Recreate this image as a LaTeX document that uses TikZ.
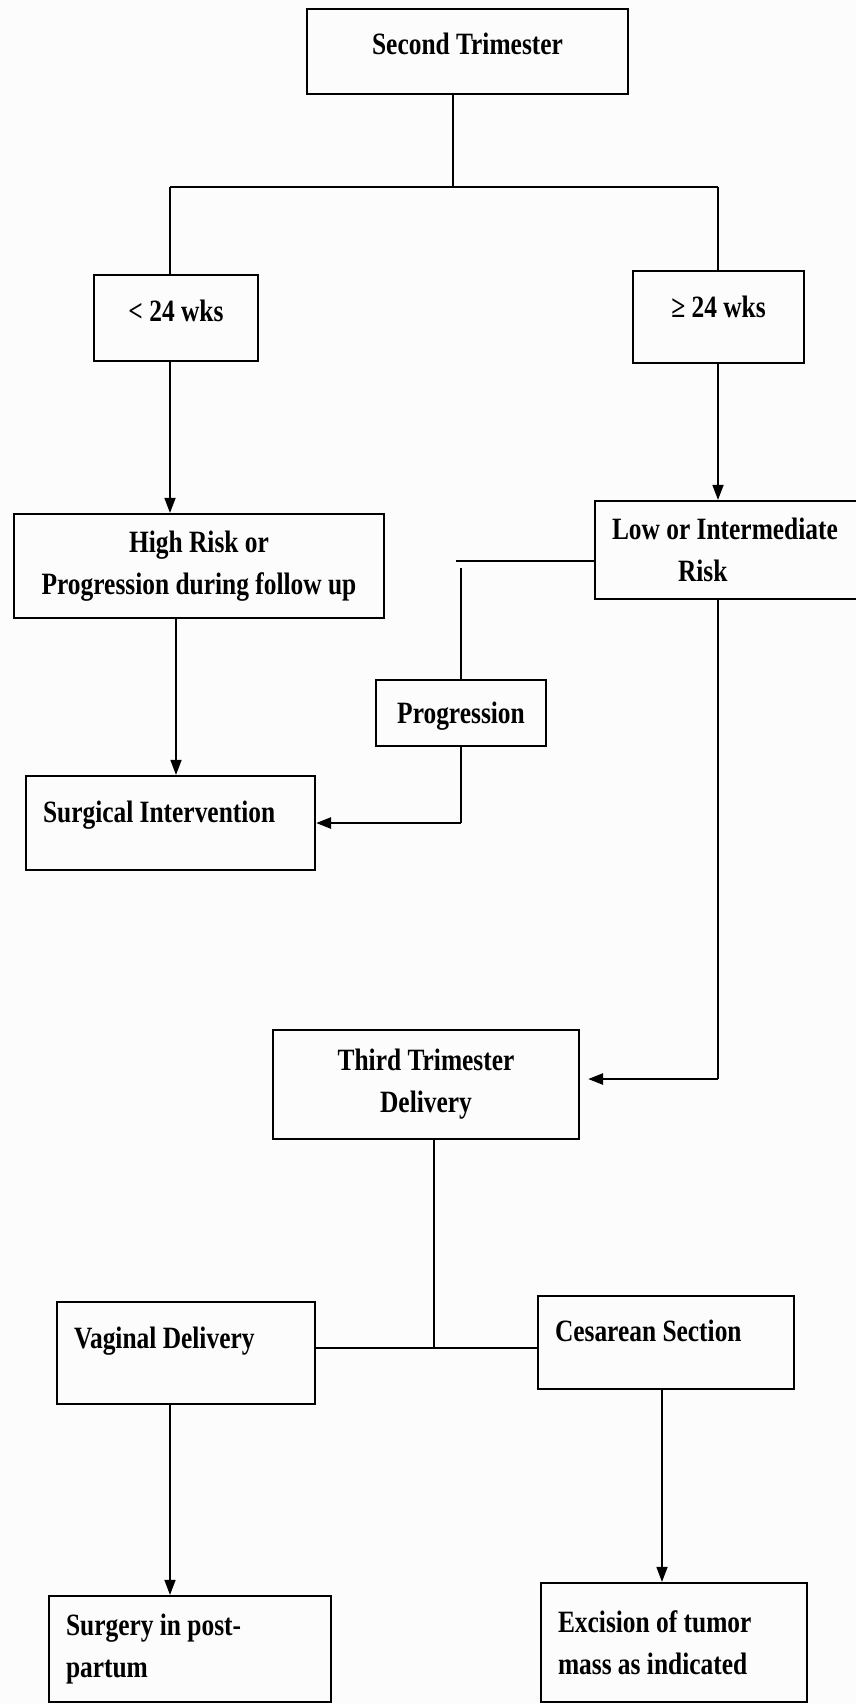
\documentclass[tikz,border=0pt]{standalone}
\usepackage{fontspec}
\setmainfont{Liberation Serif}[FakeStretch=0.82]
\usetikzlibrary{arrows.meta}

\begin{document}
\begin{tikzpicture}[x=0.5pt, y=-0.5pt,
		box/.style={draw, rectangle, line width=1.1pt, inner xsep=8.5pt, inner ysep=0pt,
			font=\bfseries\fontsize{15.5}{21}\selectfont},
		oneline/.style={text height=10.85pt, text depth=#1},
		conn/.style={line width=0.8pt},
		hconn/.style={line width=1.3pt},
		arr/.style={conn, -{Triangle[length=7.5pt, width=5.5pt]}},
		harr/.style={hconn, -{Triangle[length=7.5pt, width=5.5pt]}}]
		%%%%% START %%%%%
		
		\useasboundingbox (0, 0) rectangle (856, 1704);
		\fill[black!1] (0, 0) rectangle (856, 1704);
		\clip (0, 0) rectangle (856, 1704);
		
		\node[box, oneline=8.35pt, minimum width=160.5pt, minimum height=42.5pt] (second) at (467.5, 51.5) {Second Trimester};
		\node[box, oneline=7.85pt, minimum width=82pt, minimum height=43pt] (lt24) at (176, 318) {< 24 wks};
		\node[box, oneline=10.85pt, minimum width=85.5pt, minimum height=46pt] (ge24) at (718.5, 317) {≥ 24 wks};
		
		\node[box, align=center, minimum width=185pt, minimum height=52pt] (high) at (199, 566) {High Risk or\\Progression during follow up};
		\node[box, align=flush left, text width=118.5pt, minimum height=49pt] (low) at (730.5, 550) {Low or Intermediate\\\hspace*{33pt}Risk};
		\node[box, oneline=0pt, minimum width=85pt, minimum height=33pt] (prog) at (461, 713) {Progression};
		\node[box, oneline=11.85pt, align=flush left, text width=127.5pt, minimum height=47pt] (surg) at (170.5, 823) {Surgical Intervention};
		
		\node[box, align=center, minimum width=153pt, minimum height=54.5pt] (third) at (426, 1084.5) {Third Trimester\\Delivery};
		\node[box, oneline=15.85pt, align=flush left, text width=112pt, minimum height=51pt] (vag) at (186, 1353) {Vaginal Delivery};
		\node[box, oneline=12.35pt, align=flush left, text width=111pt, minimum height=46.5pt] (ces) at (666, 1342.5) {Cesarean Section};
		\node[box, align=flush left, text width=124pt, minimum height=53pt] (postp) at (190, 1649) {Surgery in post-\\partum};
		\node[box, align=flush left, text width=116pt, minimum height=59.5pt] (exc) at (674, 1642.5) {Excision of tumor\\mass as indicated};
		
		% bends and junctions
		\coordinate (splitM) at (453, 187);
		\coordinate (splitL) at (170, 187);
		\coordinate (splitR) at (718, 187);
		\coordinate (tapL) at (456, 561);
		\coordinate (tapD) at (461, 568);
		\coordinate (bendR) at (718, 1079);
		\coordinate (join) at (434, 1348);
		\coordinate (dropR) at (662, 1450);
		
		\draw[conn] (second.south -| splitM) -- (splitM);
		\draw[hconn] (splitL) -- (splitR);
		\draw[conn] (splitL) -- (lt24.north -| splitL);
		\draw[conn] (splitR) -- (ge24.north -| splitR);
		
		\draw[arr] (lt24.south -| splitL) -- (high.north -| splitL);
		\draw[arr] (ge24.south -| splitR) -- (low.north -| splitR);
		\draw[arr] (high.south -| lt24.south) -- (surg.north -| lt24.south);
		
		\draw[hconn] (low.west |- tapL) -- (tapL);
		\draw[conn] (tapD) -- (prog.north -| tapD);
		\draw[conn] (prog.south) -- (prog.south |- surg.east);
		\draw[harr] (prog.south |- surg.east) -- (surg.east);
		
		\draw[conn] (low.south -| bendR) -- (bendR);
		\draw[harr, shorten >=4pt] (bendR) -- (third.east |- bendR);
		
		\draw[conn] (third.south -| join) -- (join);
		\draw[hconn] (vag.east |- join) -- (ces.west |- join);
		\draw[arr] (vag.south -| splitL) -- (postp.north -| splitL);
		\draw[arr] (ces.south -| dropR) -- (exc.north -| dropR);
		
		%%%%% END %%%%%
	\end{tikzpicture}
\end{document}
